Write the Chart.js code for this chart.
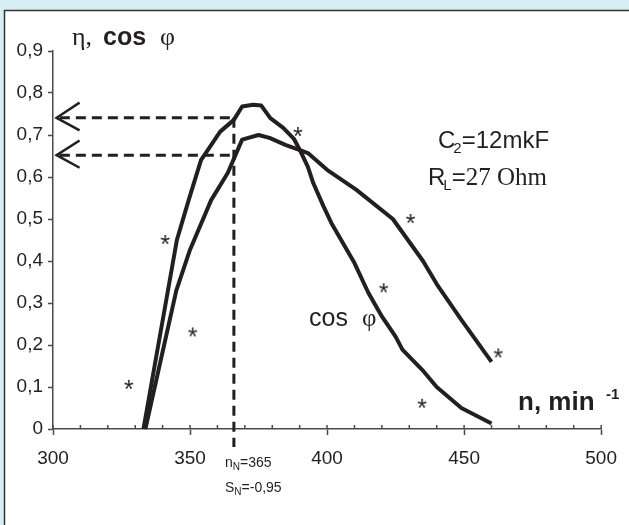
<!DOCTYPE html>
<html>
<head>
    <title>eta, cos phi vs n</title>
    <script src="https://cdn.jsdelivr.net/npm/chart.js@4.4.1/dist/chart.umd.min.js"></script>
    <style>
        body { margin: 0; background: #d8eef5; }
        canvas { display: block; }
    </style>
</head>
<body>
<canvas id="myChart" width="629" height="525"></canvas>

<script>
// cos phi curve (speed n, value)
var cosN = [333, 345.2, 349.5, 354, 361, 366, 369, 373, 376, 379.3, 384, 388, 390, 393, 395, 398.7, 401.6, 410, 415, 420, 425, 427.5, 434.7, 440, 449, 460];
var cosV = [0, 0.45, 0.545, 0.64, 0.708, 0.736, 0.768, 0.772, 0.77, 0.74, 0.717, 0.69, 0.665, 0.624, 0.585, 0.53, 0.49, 0.395, 0.325, 0.268, 0.22, 0.189, 0.141, 0.10, 0.05, 0.013];

// efficiency curve
var etaN = [333.7, 345, 350, 357.7, 363.8, 369, 375, 379, 385, 389.6, 393, 400, 410.6, 424, 435, 440.5, 449, 460];
var etaV = [0, 0.33, 0.427, 0.545, 0.61, 0.689, 0.70, 0.693, 0.676, 0.665, 0.657, 0.617, 0.57, 0.50, 0.40, 0.34, 0.26, 0.16];

// measured points (*)
var starN = [327.7, 341, 351, 389.4, 420.7, 430.5, 434.7, 462.5];
var starV = [0.105, 0.45, 0.23, 0.707, 0.335, 0.50, 0.06, 0.18];

// rated point
var ratedN = 366;
var ratedCos = 0.741;
var ratedEta = 0.652;

var xTicks = [300, 350, 400, 450, 500];
var yTicks = [0, 0.1, 0.2, 0.3, 0.4, 0.5, 0.6, 0.7, 0.8, 0.9];

var ink = '#231f20';
var axisColor = '#4a4a4a';

function pts(xs, ys) {
    return xs.map(function (x, i) { return {x: x, y: ys[i]}; });
}

// asterisk marker as an image
var star = document.createElement('canvas');
star.width = 16; star.height = 16;
(function () {
    var c = star.getContext('2d');
    c.font = '25px "Liberation Sans", Arial, sans-serif';
    c.fillStyle = ink;
    var m = c.measureText('*');
    var w = m.actualBoundingBoxRight + m.actualBoundingBoxLeft;
    var h = m.actualBoundingBoxAscent + m.actualBoundingBoxDescent;
    c.fillText('*', 8 - w / 2 + m.actualBoundingBoxLeft, 8 - h / 2 + m.actualBoundingBoxAscent);
})();

var sans = '"Liberation Sans", Arial, sans-serif';
var serif = '"Liberation Serif", "Times New Roman", serif';

function txt(ctx, s, x, y, font) {
    ctx.font = font;
    ctx.fillText(s, x, y);
    return x + ctx.measureText(s).width;
}

var decor = {
    id: 'decor',
    beforeDraw: function (chart) {
        var ctx = chart.ctx;
        ctx.save();
        ctx.fillStyle = '#d8eef5';
        ctx.fillRect(0, 0, chart.width, chart.height);
        ctx.fillStyle = '#ffffff';
        ctx.fillRect(4, 10, chart.width - 4, chart.height - 10);
        ctx.strokeStyle = '#333333';
        ctx.lineWidth = 1.5;
        ctx.beginPath();
        ctx.moveTo(4.5, chart.height);
        ctx.lineTo(4.5, 10.5);
        ctx.lineTo(chart.width, 10.5);
        ctx.stroke();
        ctx.restore();
    },
    afterDraw: function (chart) {
        var ctx = chart.ctx;
        var xs = chart.scales.x;
        var bottom = chart.chartArea.bottom;
        ctx.save();
        // small upward ticks on the n axis
        ctx.strokeStyle = axisColor;
        ctx.lineWidth = 1.5;
        xs.ticks.forEach(function (t) {
            var px = xs.getPixelForValue(t.value);
            ctx.beginPath();
            ctx.moveTo(px, bottom);
            ctx.lineTo(px, bottom - 4);
            ctx.stroke();
        });

        ctx.fillStyle = ink;
        ctx.textBaseline = 'alphabetic';
        // axis titles
        var x = txt(ctx, 'η,', 72, 45, '26px ' + serif);
        x = txt(ctx, 'cos', 103, 45, 'bold 25px ' + sans);
        txt(ctx, 'φ', 160, 45, '26px ' + serif);

        x = txt(ctx, 'n, min', 518, 410, 'bold 26px ' + sans);
        txt(ctx, '-1', 606, 399, 'bold 15px ' + sans);

        // parameters
        x = txt(ctx, 'C', 438, 148, '24px ' + sans);
        x = txt(ctx, '2', x - 2, 153, '15px ' + sans);
        txt(ctx, '=12mkF', x, 148, '24px ' + sans);

        x = txt(ctx, 'R', 428, 185, '24px ' + sans);
        x = txt(ctx, 'L', x - 2, 190, '15px ' + sans);
        x = txt(ctx, '=', x, 185, '24px ' + sans);
        txt(ctx, '27 Ohm', x, 185, '25px ' + serif);

        // curve label
        txt(ctx, 'cos', 309, 326, '25px ' + sans);
        txt(ctx, 'φ', 362, 326, '25px ' + serif);

        // rated point
        x = txt(ctx, 'n', 225, 467, '14px ' + sans);
        x = txt(ctx, 'N', x, 470, '10px ' + sans);
        txt(ctx, '=365', x, 467, '14px ' + sans);
        x = txt(ctx, 'S', 225, 492, '14px ' + sans);
        x = txt(ctx, 'N', x, 495, '10px ' + sans);
        txt(ctx, '=-0,95', x, 492, '14px ' + sans);
        ctx.restore();
    }
};

var lineStyle = {
    borderColor: ink,
    borderWidth: 4,
    pointRadius: 0,
    tension: 0,
    fill: false,
    clip: false,
    borderJoinStyle: 'round'
};

function dashed(data) {
    return {
        data: data, borderColor: ink, borderWidth: 3, borderDash: [10, 6],
        pointRadius: 0, fill: false, clip: false, borderCapStyle: 'butt'
    };
}

function arrow(v, up, down) {
    return {
        data: [{x: 309.7, y: v + up}, {x: 301.3, y: v}, {x: 309.7, y: v - down}],
        borderColor: ink, borderWidth: 2.5, pointRadius: 0, fill: false, clip: false
    };
}

var ctx = document.getElementById('myChart').getContext('2d');
var myChart = new Chart(ctx, {
    type: 'line',
    data: {
        datasets: [
            Object.assign({label: 'cos phi', data: pts(cosN, cosV)}, lineStyle),
            Object.assign({label: 'eta', data: pts(etaN, etaV)}, lineStyle),
            {
                type: 'scatter', label: 'points', data: pts(starN, starV),
                pointStyle: star, showLine: false, clip: false
            },
            dashed([{x: 302.5, y: ratedCos}, {x: ratedN, y: ratedCos}]),
            dashed([{x: 302.5, y: ratedEta}, {x: ratedN, y: ratedEta}]),
            dashed([{x: ratedN, y: ratedCos}, {x: ratedN, y: -0.043}]),
            arrow(ratedCos, 0.036, 0.03),
            arrow(ratedEta, 0.035, 0.03)
        ]
    },
    options: {
        responsive: false,
        animation: false,
        events: [],
        layout: {padding: {left: 0, top: 51, right: 21, bottom: 56}},
        plugins: {legend: {display: false}, tooltip: {enabled: false}},
        scales: {
            x: {
                type: 'linear',
                min: xTicks[0],
                max: xTicks[xTicks.length - 1],
                afterFit: function (s) { s.height = 40; },
                ticks: {
                    stepSize: 10,
                    autoSkip: false,
                    maxRotation: 0,
                    padding: 12,
                    color: '#222',
                    font: {family: sans, size: 19},
                    callback: function (v) { return xTicks.indexOf(v) >= 0 ? String(v) : ''; }
                },
                grid: {
                    drawOnChartArea: false,
                    tickLength: 6,
                    tickWidth: 1.5,
                    tickColor: function (c) {
                        return c.tick && xTicks.indexOf(c.tick.value) >= 0 ? axisColor : 'rgba(0,0,0,0)';
                    }
                },
                border: {display: true, color: axisColor, width: 1.5}
            },
            y: {
                type: 'linear',
                min: yTicks[0],
                max: yTicks[yTicks.length - 1],
                afterFit: function (s) { s.width = 53; },
                ticks: {
                    stepSize: 0.1,
                    padding: 5,
                    color: '#222',
                    font: {family: sans, size: 19},
                    callback: function (v) {
                        var r = Math.round(v * 10) / 10;
                        return r === 0 ? '0' : r.toFixed(1).replace('.', ',');
                    }
                },
                grid: {drawOnChartArea: false, tickLength: 5, tickWidth: 1.5, tickColor: axisColor},
                border: {display: true, color: axisColor, width: 1.5}
            }
        }
    },
    plugins: [decor]
});
</script>

</body>
</html>
